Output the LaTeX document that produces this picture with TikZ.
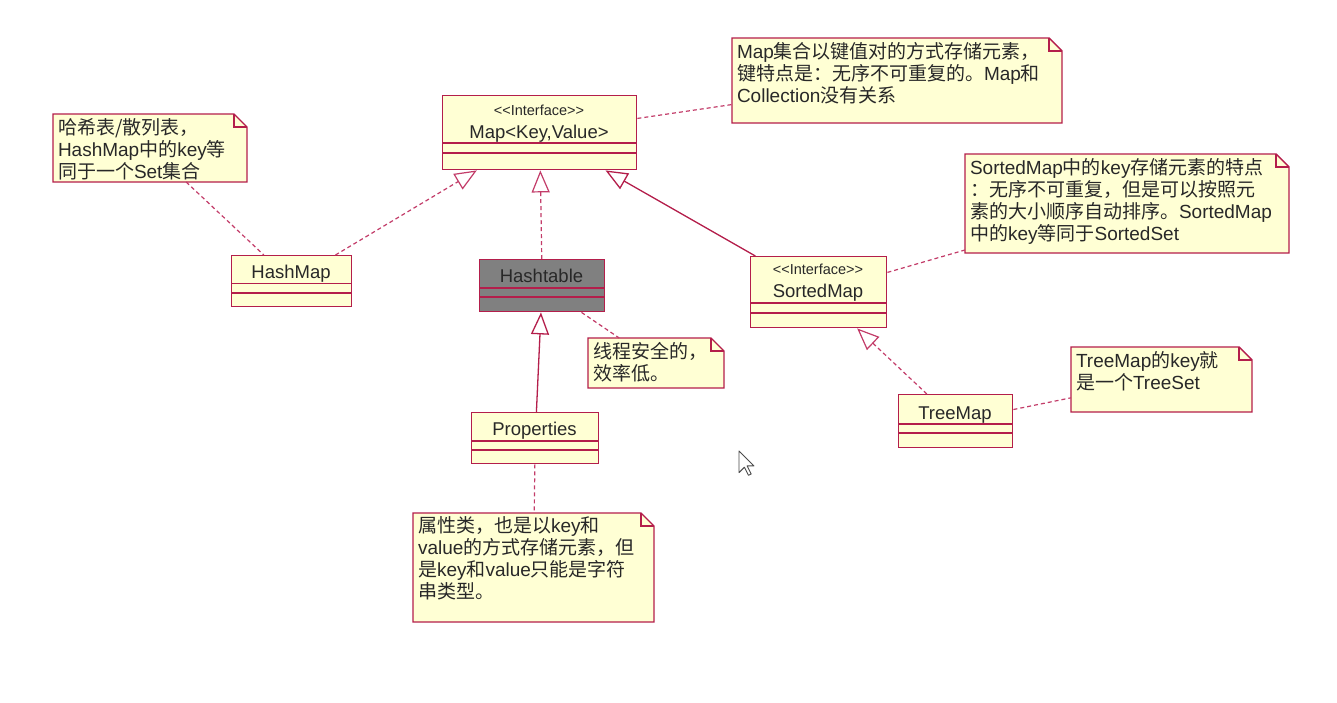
\documentclass[tikz,border=0pt]{standalone}
\usepackage{fontspec}
\setmainfont{Liberation Sans}
\newfontfamily\cjk{Noto Sans CJK SC}
\usetikzlibrary{arrows.meta,backgrounds}
\definecolor{bdr}{RGB}{180,30,75}
\definecolor{dashc}{RGB}{195,60,105}
\definecolor{boxfill}{RGB}{255,255,212}
\definecolor{htfill}{RGB}{128,128,128}
\definecolor{txt}{RGB}{40,40,40}
\newcommand\zh[1]{{\cjk #1}}
\newcommand\nt[3]{\parbox[c][#2pt][t]{#1pt}{\raggedright #3}}
\newcommand\comps[3]{%
  \draw[sep] ([yshift=-#2pt]#1.north west) -- ([yshift=-#2pt]#1.north east);
  \draw[sep] ([yshift=-#3pt]#1.north west) -- ([yshift=-#3pt]#1.north east);}
\begin{document}
\begin{tikzpicture}[x=1pt,y=-1pt,
  cls/.style={draw=bdr, fill=boxfill, line width=1.4pt, inner sep=0pt, anchor=north west},
  cname/.style={font=\fontsize{18.5}{20}\selectfont, text=txt, anchor=base, inner sep=0pt},
  stereo/.style={font=\fontsize{14.5}{16}\selectfont, text=txt, anchor=base, inner sep=0pt},
  note/.style={anchor=north west, inner xsep=5pt, inner ysep=4pt, outer sep=0pt,
    font=\fontsize{19}{22}\selectfont, text=txt},
  notebdr/.style={draw=bdr, fill=boxfill, line width=1.4pt, line join=miter},
  sep/.style={draw=bdr, line width=1.4pt},
  real/.style={draw=dashc, line width=1.2pt, dash pattern=on 4pt off 3pt,
    -{Triangle[open,length=22pt,width=18pt]}},
  gen/.style={draw=bdr, line width=1.3pt, -{Triangle[open,length=22pt,width=18pt]}},
  noteline/.style={draw=dashc, line width=1.2pt, dash pattern=on 4pt off 3pt}]
\useasboundingbox (0,0) rectangle (1337,702);

% class boxes
\node[cls, minimum width=194, minimum height=74] (map) at (442,95) {};
\node[cls, minimum width=120, minimum height=51] (hm) at (231,255) {};
\node[cls, fill=htfill, minimum width=125, minimum height=52] (ht) at (479,259) {};
\node[cls, minimum width=127, minimum height=51] (pr) at (471,412) {};
\node[cls, minimum width=136, minimum height=71] (sm) at (750,256) {};
\node[cls, minimum width=114, minimum height=53] (tm) at (898,394) {};

\comps{map}{48}{58}
\comps{hm}{28.5}{38}
\comps{ht}{29}{38}
\comps{pr}{29}{38}
\comps{sm}{47}{57}
\comps{tm}{30}{39}

% class labels
\node[stereo] (mapst) at (539,115) {<\kern0pt<Interface>\kern0pt>};
\node[cname] (mapnm) at (539,138) {Map<Key,Value>};
\node[cname] (hmnm) at (291,278) {HashMap};
\node[cname] (htnm) at (541.5,282) {Hashtable};
\node[cname] (prnm) at (534.5,435) {Properties};
\node[stereo] (smst) at (818,274) {<\kern0pt<Interface>\kern0pt>};
\node[cname] (smnm) at (818,297) {SortedMap};
\node[cname] (tmnm) at (955,419) {TreeMap};

% notes
\node[note] (n1) at (732,38) {\nt{320}{77}{Map\zh{集合以键值对的方式存储元素，}\\\zh{键特点是：无序不可重复的。}Map\zh{和}\\Collection\zh{没有关系}}};
\node[note] (n2) at (53,114) {\nt{184}{60}{\zh{哈希表/散列表，}\\HashMap\zh{中的}key\zh{等}\\\zh{同于一个}Set\zh{集合}}};
\node[note] (n3) at (588,338) {\nt{126}{42}{\zh{线程安全的，}\\\zh{效率低。}}};
\node[note] (n4) at (965,154) {\nt{314}{91}{SortedMap\zh{中的}key\zh{存储元素的特点}\\\zh{：无序不可重复，但是可以按照元}\\\zh{素的大小顺序自动排序。}SortedMap\\\zh{中的}key\zh{等同于}SortedSet}};
\node[note] (n5) at (1071,347) {\nt{171}{57}{TreeMap\zh{的}key\zh{就}\\\zh{是一个}TreeSet}};
\node[note] (n6) at (413,513) {\nt{231}{101}{\zh{属性类，也是以}key\zh{和}\\value\zh{的方式存储元素，但}\\\zh{是}key\zh{和}value\zh{只能是字符}\\\zh{串类型。}}};

\begin{scope}[on background layer]
  \fill[white] (0,0) rectangle (1337,702);
  \foreach \n in {n1,n2,n3,n4,n5,n6} {
    \draw[notebdr] (\n.north west) -- ([xshift=-13pt]\n.north east)
      -- ([yshift=-13pt]\n.north east) -- (\n.south east) -- (\n.south west) -- cycle;
    \draw[notebdr, fill=none] ([xshift=-13pt]\n.north east) |- ([yshift=-13pt]\n.north east);
  }
\end{scope}

% connectors
\draw[real] (hm) -- (map);
\draw[real] (ht) -- (map);
\draw[gen] (sm) -- (map);
\draw[gen] (pr) -- (ht);
\draw[real] (tm) -- (sm);
\draw[noteline] (map) -- (n1);
\draw[noteline] (n2) -- (hm);
\draw[noteline] (ht) -- (n3);
\draw[noteline] (sm) -- (n4);
\draw[noteline] (tm) -- (n5);
\draw[noteline] (pr) -- (n6);

% mouse pointer
\filldraw[draw=black!70, fill=white, line width=0.9pt, line join=round, shift={(739,451)}]
  (0,0) -- (0,21.6) -- (5.4,16.2) -- (9.5,24.3) -- (12.2,23) -- (8.1,14.9) -- (14.9,14.9) -- cycle;
\end{tikzpicture}
\end{document}
